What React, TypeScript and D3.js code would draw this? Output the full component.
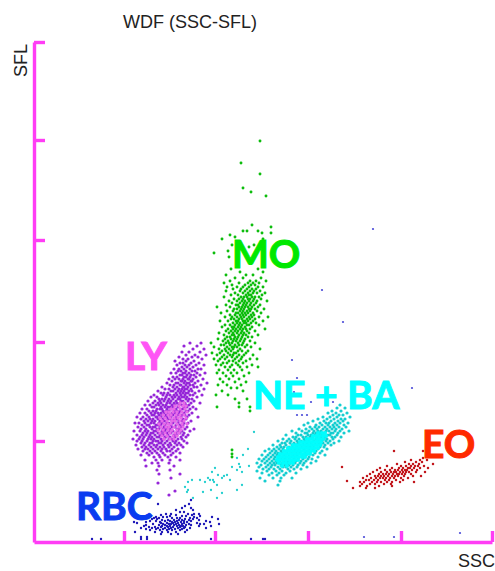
import React, { useRef, useEffect } from 'react'
import * as d3 from 'd3'

// rows are [sfl, ssc, ssc, ...], grouped by sfl level
const lyRows = [
  [199, 156, 167], [196, 150, 163], [193, 159, 170], [190, 148, 155, 166], [187, 152, 161, 172], [185, 145, 158, 164], [183, 149, 154, 168], [181, 141, 152, 160],
  [179, 146, 149, 157, 165], [177, 143, 151, 155, 162, 170], [175, 148, 153, 159], [173, 140, 145, 150, 156, 164, 167], [171, 144, 147, 152, 158, 161],
  [169, 137, 142, 149, 151, 155, 163, 171], [167, 146, 148, 153, 157, 160, 166], [165, 139, 143, 150, 152, 156, 162], [163, 135, 141, 145, 149, 154, 155, 159, 169],
  [161, 138, 147, 148, 151, 157, 158, 164], [159, 133, 142, 144, 150, 153, 155, 161, 173], [157, 136, 140, 146, 147, 152, 156, 159, 167], [155, 128, 139, 143, 149, 150, 154, 160, 163],
  [153, 131, 135, 141, 145, 148, 151, 153, 157, 170], [151, 124, 137, 139, 144, 147, 150, 155, 158, 165], [149, 127, 130, 134, 142, 146, 149, 152, 154, 161],
  [147, 120, 129, 133, 136, 140, 143, 147, 151, 156, 159, 168], [145, 117, 123, 132, 138, 141, 145, 148, 150, 153, 163], [143, 125, 128, 131, 135, 139, 144, 146, 152, 155, 158],
  [141, 114, 121, 126, 130, 134, 137, 142, 147, 149, 154, 160], [139, 119, 124, 127, 133, 136, 140, 143, 146, 151, 157, 166], [137, 111, 116, 122, 125, 129, 132, 138, 141, 145, 148, 152, 155],
  [135, 118, 120, 127, 131, 134, 136, 139, 144, 150, 153, 159], [133, 108, 113, 123, 126, 128, 133, 137, 142, 147, 149, 156, 162], [131, 115, 119, 122, 129, 132, 135, 140, 143, 146, 152, 154],
  [129, 106, 111, 117, 121, 124, 127, 130, 134, 138, 141, 145, 150, 158], [127, 113, 118, 120, 125, 128, 132, 136, 139, 144, 148, 151, 155], [125, 103, 109, 115, 122, 123, 127, 131, 133, 137, 142, 147, 153, 164],
  [123, 107, 112, 116, 119, 124, 129, 134, 136, 140, 143, 149, 152], [121, 110, 114, 118, 121, 126, 130, 132, 138, 141, 145, 148, 157], [119, 101, 105, 111, 117, 120, 125, 128, 133, 135, 139, 144, 150, 154],
  [117, 108, 113, 115, 122, 124, 127, 131, 137, 142, 146, 149], [115, 104, 110, 116, 119, 121, 126, 130, 134, 138, 141, 147, 153], [113, 107, 112, 118, 123, 125, 129, 132, 136, 143, 145, 151, 160],
  [111, 100, 106, 111, 114, 120, 122, 128, 131, 135, 139, 144, 148, 156], [109, 109, 113, 117, 119, 124, 127, 130, 133, 137, 142, 146, 150], [107, 103, 108, 112, 116, 121, 126, 129, 134, 140, 143, 149, 154],
  [105, 106, 110, 115, 118, 123, 125, 131, 132, 136, 141, 147, 152], [103, 99, 105, 109, 114, 117, 120, 127, 130, 135, 138, 144, 148], [101, 103, 108, 113, 119, 122, 124, 128, 133, 139, 142, 150],
  [99, 107, 111, 116, 118, 125, 127, 131, 136, 141, 145, 153], [97, 102, 110, 115, 120, 123, 129, 134, 137, 143, 147], [95, 108, 112, 117, 122, 126, 130, 135, 140, 149],
  [93, 104, 111, 114, 119, 124, 128, 132, 138, 144], [91, 109, 116, 121, 127, 133, 136, 142], [89, 113, 118, 123, 129, 139, 146], [87, 107, 115, 125, 131, 137], [85, 120, 126, 134, 142],
  [82, 111, 122, 128, 136, 146], [79, 118, 124, 135], [76, 112, 125, 140], [72, 123, 136], [68, 125, 146], [64, 137], [59, 124], [51, 141], [47, 135],
]

const lyCoreRows = [
  [139, 146, 150], [136, 141, 145, 149, 152], [133, 137, 140, 146, 151], [130, 132, 135, 139, 143, 148, 153], [127, 129, 134, 137, 142, 146, 150], [124, 126, 131, 136, 140, 144, 147, 152],
  [121, 128, 133, 138, 141, 146, 150], [118, 125, 130, 134, 137, 143, 148, 153], [115, 127, 132, 135, 140, 145, 149], [112, 124, 129, 134, 138, 143, 147], [109, 126, 131, 136, 141, 145],
  [106, 128, 133, 139, 143], [103, 130, 136, 140],
]

const moRows = [
  [401, 226], [379, 207], [368, 226], [354, 209], [350, 217], [346, 232], [317, 218], [315, 237], [311, 209, 213, 224], [309, 228, 237],
  [307, 196], [305, 201], [303, 188, 229], [297, 198, 220], [295, 215], [291, 194], [289, 180], [285, 195],
  [273, 197, 224], [270, 206, 229], [267, 192, 212, 219], [264, 201, 209, 227], [261, 196, 216, 222, 232], [259, 190, 205, 214, 219, 225], [257, 198, 211, 217, 221],
  [255, 193, 203, 209, 215, 224, 229], [253, 199, 207, 213, 218, 222], [251, 192, 206, 211, 216, 220, 226], [249, 201, 209, 214, 219, 223, 231], [247, 197, 204, 212, 215, 217, 228],
  [245, 190, 207, 210, 213, 218, 221, 225], [243, 200, 205, 209, 214, 216, 220, 227], [241, 195, 203, 208, 211, 215, 219, 223, 233], [239, 198, 206, 210, 213, 217, 222],
  [237, 192, 202, 204, 209, 212, 216, 220, 226], [235, 183, 196, 205, 208, 211, 214, 218, 224], [233, 200, 203, 207, 210, 215, 217, 221, 230], [231, 193, 199, 206, 209, 213, 216, 223],
  [229, 187, 202, 204, 208, 211, 214, 219, 227], [227, 196, 201, 206, 209, 212, 217, 220], [225, 191, 198, 203, 207, 210, 215, 218, 225, 234], [223, 197, 200, 205, 208, 213, 216, 221],
  [221, 186, 194, 202, 204, 209, 211, 214, 219, 229], [219, 199, 203, 206, 210, 212, 217, 222], [217, 191, 196, 201, 205, 208, 213, 215, 225], [215, 188, 198, 200, 204, 207, 211, 218],
  [213, 194, 199, 202, 206, 209, 212, 216, 231], [211, 192, 197, 201, 204, 208, 213, 221], [209, 185, 195, 199, 203, 207, 210, 215], [207, 190, 198, 200, 205, 209, 212, 224],
  [205, 193, 196, 201, 204, 208, 214, 218], [203, 184, 191, 197, 200, 203, 207, 211], [201, 189, 194, 199, 202, 206, 210, 216], [199, 177, 192, 195, 198, 204, 209, 221],
  [197, 187, 190, 196, 201, 205, 208, 213], [195, 180, 193, 198, 200, 203, 211, 217], [193, 185, 191, 195, 199, 206, 226], [191, 188, 192, 197, 204, 208, 214],
  [189, 178, 186, 194, 200, 202, 212], [187, 183, 190, 196, 199, 205, 210, 219], [185, 188, 193, 198, 203, 208], [183, 180, 186, 191, 201, 207, 216, 223], [181, 184, 195, 199, 205, 212],
  [179, 189, 193, 202, 209], [177, 182, 187, 198, 204, 218], [175, 191, 196, 206, 213, 224], [172, 185, 194, 200, 208], [169, 183, 189, 197, 203, 215], [166, 192, 199, 210], [163, 186, 195, 205],
  [160, 189, 201, 212], [157, 184, 193, 207], [154, 197, 203], [151, 188, 209], [147, 182, 194], [143, 201, 213], [139, 205], [135, 183, 205, 216], [131, 216], [92, 198], [88, 198], [85, 198],
]

const neRows = [
  [137, 306], [134, 303, 311], [131, 298, 307], [129, 294, 302, 313], [127, 299, 305, 309], [125, 289, 296, 303, 316], [123, 284, 293, 300, 307, 311], [121, 279, 290, 297, 304, 309],
  [119, 274, 286, 292, 295, 301, 306, 314], [117, 270, 282, 288, 294, 299, 303, 310], [115, 276, 281, 285, 291, 296, 300, 305, 312], [113, 265, 272, 278, 283, 289, 293, 298, 302, 308],
  [111, 258, 268, 275, 280, 284, 287, 292, 295, 301, 306, 315], [109, 262, 271, 273, 279, 282, 286, 290, 297, 299, 304, 310], [107, 252, 264, 267, 274, 277, 281, 285, 288, 294, 296, 303],
  [105, 259, 262, 269, 272, 276, 279, 283, 287, 291, 298, 301, 307], [103, 249, 255, 261, 265, 270, 274, 278, 282, 286, 290, 293, 299], [101, 244, 253, 257, 263, 267, 271, 275, 280, 284, 288, 292, 296, 305],
  [99, 248, 251, 256, 260, 264, 269, 273, 277, 281, 285, 289, 294, 300], [97, 239, 246, 252, 258, 262, 266, 270, 274, 278, 283, 287, 291, 297], [95, 243, 247, 250, 255, 259, 263, 268, 272, 276, 280, 286, 290],
  [93, 235, 240, 245, 249, 254, 257, 261, 265, 270, 275, 279, 284, 293], [91, 231, 238, 242, 247, 251, 256, 260, 264, 267, 273, 277, 282, 288], [89, 236, 241, 244, 248, 253, 258, 262, 266, 271, 276, 281, 286],
  [87, 228, 234, 239, 243, 246, 250, 255, 259, 263, 268, 272, 279, 291], [85, 232, 237, 241, 245, 249, 252, 257, 261, 265, 270, 275, 284], [83, 225, 230, 235, 240, 244, 247, 251, 255, 260, 264, 269, 274, 278],
  [81, 228, 233, 238, 242, 246, 250, 254, 258, 262, 267, 272, 282], [79, 223, 231, 236, 240, 243, 248, 253, 256, 261, 266, 270, 277], [77, 227, 234, 238, 241, 247, 251, 255, 259, 264, 269],
  [75, 225, 232, 237, 244, 249, 252, 257, 263, 273], [73, 229, 235, 240, 246, 254, 260, 267], [71, 223, 233, 242, 248, 256], [69, 228, 238, 245, 252, 262], [67, 235, 243, 250], [64, 226, 239, 247, 258], [61, 231, 246], [57, 244],
]

const neCoreRows = [
  [109, 284, 288, 291], [106, 279, 282, 285, 289, 292], [103, 273, 276, 279, 283, 286, 289], [100, 266, 269, 272, 275, 278, 281, 284, 287], [97, 259, 262, 265, 268, 271, 274, 277, 280, 283, 286],
  [94, 254, 257, 260, 263, 266, 269, 272, 275, 278, 281, 284], [91, 250, 253, 256, 259, 262, 265, 268, 271, 274, 277, 280], [88, 246, 249, 252, 255, 258, 261, 264, 267, 270, 273, 276],
  [85, 244, 247, 250, 253, 256, 259, 262, 265, 268, 271], [82, 243, 246, 249, 252, 255, 258, 261, 264], [79, 245, 249, 252, 256, 259], [76, 248, 253],
]

const neTailX = [220, 214, 209, 203, 198, 206, 203, 208, 215, 193, 181, 178, 174, 179, 184, 188, 171, 166, 158, 154, 151, 154, 153, 169, 177, 183, 188, 196, 208, 203, 183, 159, 176, 180, 190, 205]
const neTailY = [110, 93, 87, 84, 75, 75, 72, 70, 76, 67, 74, 70, 64, 62, 67, 64, 60, 62, 62, 60, 55, 52, 50, 50, 52, 57, 49, 62, 57, 52, 44, 44, 62, 60, 66, 78]

const eoRows = [
  [91, 360], [91, 389], [75, 308], [61, 313], [54, 319], [86, 397], [84, 389], [82, 377, 386, 393], [80, 371, 382, 388], [78, 363, 375, 379, 385, 399],
  [76, 353, 367, 372, 377, 381, 384, 390], [74, 346, 358, 365, 369, 374, 376, 380, 386, 394], [72, 343, 351, 356, 361, 364, 368, 371, 373, 378, 383],
  [70, 339, 347, 353, 357, 360, 362, 366, 369, 372, 375, 382, 391], [68, 336, 345, 349, 352, 355, 359, 363, 365, 368, 371, 377], [66, 333, 341, 344, 347, 350, 354, 358, 361, 364, 370, 379, 387],
  [64, 329, 337, 342, 346, 349, 352, 356, 360, 367, 374], [62, 332, 335, 340, 344, 351, 355, 362, 369], [60, 326, 330, 338, 343, 347, 353, 358, 366, 380], [58, 328, 336, 341, 350, 357],
  [56, 326, 333, 345, 358], [54, 332, 341],
]

const rbcRows = [
  [42, 157], [38, 124, 155], [36, 151], [34, 148, 157], [32, 142, 159], [30, 146, 150], [28, 132, 137, 154, 160, 165], [27, 127, 142, 158], [26, 117, 136, 148, 152, 166],
  [25, 122, 129, 133, 160, 178], [24, 114, 120, 125, 138, 143, 146, 156, 163], [23, 118, 123, 151, 159, 184], [22, 128, 134, 140, 145, 148, 155, 165], [21, 116, 122, 131, 136, 143, 150, 157, 172],
  [20, 100, 112, 126, 138, 141, 147, 153, 176], [19, 103, 127, 133, 139, 144, 150, 163], [18, 119, 129, 135, 137, 142, 148, 155, 166, 170, 185], [17, 112, 125, 131, 140, 145, 152, 157],
  [16, 110, 128, 133, 136, 143, 147, 149, 165, 177], [15, 115, 121, 127, 134, 139, 146, 151], [14, 107, 118, 124, 131, 137, 144, 150, 156, 172], [13, 112, 122, 129, 135, 141, 148],
  [12, 116, 126, 133, 138, 146, 153], [10, 101, 121, 128, 134, 142, 151], [8, 127, 137, 144], [5, 107, 113], [3, 58, 67, 107, 113, 177, 217, 229, 231],
]

const strayX = [339, 288, 309, 378, 263, 268, 273, 277, 299, 258, 263, 260, 330, 360, 426]
const strayY = [313, 252, 220, 154, 127, 127, 127, 140, 140, 182, 164, 150, 5, 5, 9]

const xTicks = [90, 181, 274, 367, 458]
const yTicks = [101, 200, 302, 402, 500]

const groupLabels = ['MO', 'LY', 'NE + BA', 'EO', 'RBC']
const labelColors = ['#00e800', '#ff55f5', '#00ffff', '#ff2a00', '#0a3cf0']
const labelX = [232, 125, 253, 422, 76]
const labelY = [268, 370, 409, 458, 520]

const expand = (rows: number[][]) => rows.flatMap(([y, ...xs]) => xs.map(x => [x, y]))
const zip = (xs: number[], ys: number[]) => xs.map((x, i) => [x, ys[i]])

const App = () => {
  const chartRef = useRef<SVGSVGElement>(null)

  useEffect(() => {
    const svg = d3.select(chartRef.current)
    svg.selectAll('*').remove()

    const x = d3.scaleLinear().domain([0, 458]).range([34, 492])
    const y = d3.scaleLinear().domain([0, 500]).range([542, 42])

    svg.append('defs').append('filter')
      .attr('id', 'soft')
      .append('feGaussianBlur')
      .attr('stdDeviation', 0.4)

    const drawPoints = (points: number[][], color: string, r: number) => {
      svg.append('g')
        .attr('filter', 'url(#soft)')
        .selectAll('circle')
        .data(points)
        .enter()
        .append('circle')
        .attr('cx', d => x(d[0]))
        .attr('cy', d => y(d[1]))
        .attr('r', r)
        .attr('fill', color)
    }

    drawPoints(expand(moRows), '#0cbc0c', 1.45)
    drawPoints(expand(lyRows), '#9526d8', 1.6)
    drawPoints(expand(lyCoreRows), '#e86ae8', 1.7)
    drawPoints(zip(neTailX, neTailY), '#22cfcf', 1.15)
    drawPoints(expand(neRows), '#12cdd0', 1.6)
    drawPoints(expand(neCoreRows), '#00fdfd', 2.1)
    drawPoints(expand(eoRows), '#c2181c', 1.25)
    drawPoints(expand(rbcRows), '#1c16b8', 1.2)
    drawPoints(zip(strayX, strayY), '#4a4ad8', 1.1)

    const axisColor = '#ff3df5'
    const gx = svg.append('g')
      .attr('transform', 'translate(0, 542)')
      .call(d3.axisBottom(x).tickValues(xTicks).tickSize(-11).tickFormat(() => '').tickSizeOuter(0))
    const gy = svg.append('g')
      .attr('transform', 'translate(34, 0)')
      .call(d3.axisLeft(y).tickValues(yTicks).tickSize(-11).tickFormat(() => '').tickSizeOuter(0))
    for (const g of [gx, gy]) {
      g.selectAll('path, line').attr('stroke', axisColor).attr('stroke-width', 3.4)
    }

    svg.selectAll('.group-label')
      .data(groupLabels)
      .enter()
      .append('text')
      .attr('x', (d, i) => labelX[i])
      .attr('y', (d, i) => labelY[i])
      .attr('fill', (d, i) => labelColors[i])
      .attr('stroke', (d, i) => labelColors[i])
      .attr('stroke-width', 1)
      .attr('font-family', 'Lato, sans-serif')
      .attr('font-weight', 700)
      .attr('font-size', 39)
      .text(d => d)

    const caption = (text: string, px: number, py: number, rotate = 0) => {
      svg.append('text')
        .attr('transform', `translate(${px}, ${py}) rotate(${rotate})`)
        .attr('font-family', '"Liberation Sans", sans-serif')
        .attr('font-size', 18)
        .attr('fill', '#222')
        .text(text)
    }
    caption('WDF (SSC-SFL)', 123, 28)
    caption('SFL', 27, 77, -90)
    caption('SSC', 458, 567)
  }, [])

  return <svg ref={chartRef} width={495} height={571} style={{ position: 'absolute', left: 0, top: 0 }} />
}

export default App
